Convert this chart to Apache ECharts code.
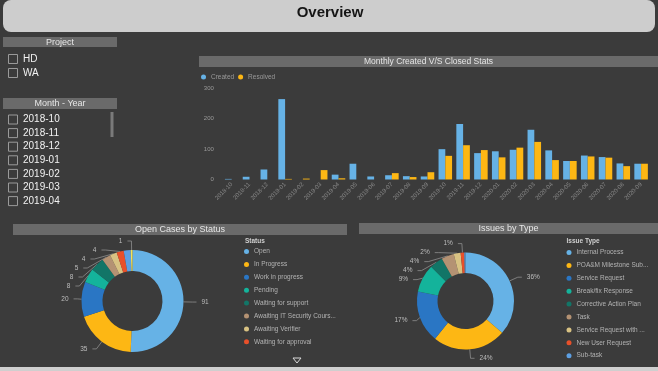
<!DOCTYPE html>
<html><head><meta charset="utf-8">
<script src="https://cdn.jsdelivr.net/npm/echarts@6/dist/echarts.min.js"></script>
<style>html,body{margin:0;padding:0;background:#3b3b3b;}#c{width:658px;height:371px;}</style>
</head><body><div id="c"></div>
<script>
const projects = ['HD', 'WA'];
const monthFilter = ['2018-10', '2018-11', '2018-12', '2019-01', '2019-02', '2019-03', '2019-04'];
const months = ['2018-10','2018-11','2018-12','2019-01','2019-02','2019-03','2019-04','2019-05','2019-06','2019-07','2019-08','2019-09','2019-10','2019-11','2019-12','2020-01','2020-02','2020-03','2020-04','2020-05','2020-06','2020-07','2020-08','2020-09'];
const created  = [2, 9, 33, 265, 0, 0, 16, 52, 10, 14, 11, 10, 100, 183, 87, 93, 98, 164, 96, 61, 79, 74, 53, 52];
const resolved = [0, 0, 0, 2, 3, 31, 4, 0, 0, 21, 8, 24, 78, 113, 97, 73, 105, 124, 64, 61, 76, 72, 44, 52];
const yTicks = [0, 100, 200, 300];
const statusNames = ['Open', 'In Progress', 'Work in progress', 'Pending', 'Waiting for support', 'Awaiting IT Security Cours...', 'Awaiting Verifier', 'Waiting for approval', 'Waiting for customer', 'On Hold'];
const statusValues = [91, 35, 20, 8, 8, 5, 4, 4, 4, 1];
const typeNames = ['Internal Process', 'POA&M Milestone Sub...', 'Service Request', 'Break/fix Response', 'Corrective Action Plan', 'Task', 'Service Request with ...', 'New User Request', 'Sub-task'];
const typeValues = [36.4, 24.4, 17.3, 9.4, 4.4, 4.2, 2.3, 1.2, 0.4];

const palette = ['#66b2e6', '#fdb714', '#2a76c4', '#14b39b', '#127567', '#b49273', '#d8c283', '#e8502a', '#5d9fe2', '#f3e35a'];
const BG = '#3b3b3b', BAND = '#6a6a6a';

const chart = echarts.init(document.getElementById('c'), null, {renderer: 'canvas', width: 658, height: 371});

const g = [];
g.push({type: 'rect', shape: {x: 3, y: 0, width: 652, height: 32, r: 8}, style: {fill: '#cdcdcd'}});
g.push({type: 'text', x: 330, y: 13, style: {text: 'Overview', fill: '#151515', font: 'bold 15px "Liberation Sans", Arial, sans-serif', textAlign: 'center', textVerticalAlign: 'middle'}});
function band(x, y, w, h, label, fs) {
  g.push({type: 'rect', shape: {x: x, y: y, width: w, height: h}, style: {fill: BAND}});
  g.push({type: 'text', x: x + w / 2, y: y + h / 2 + 0.5, style: {text: label, fill: '#e6e6e6', font: fs + 'px "Liberation Sans", Arial, sans-serif', textAlign: 'center', textVerticalAlign: 'middle'}});
}
band(3, 37, 114, 10, 'Project', 9);
band(3, 98, 114, 11, 'Month - Year', 9);
band(199, 56, 459, 11, 'Monthly Created V/S Closed Stats', 8.5);
band(13, 224, 334, 11, 'Open Cases by Status', 9);
band(359, 223, 299, 11, 'Issues by Type', 9);
function checkItem(label, cy) {
  g.push({type: 'rect', shape: {x: 8.5, y: cy - 4.5, width: 9, height: 9}, style: {fill: 'none', stroke: '#9a9a9a', lineWidth: 1}});
  g.push({type: 'text', x: 23, y: cy, style: {text: label, fill: '#f2f2f2', font: '10px "Liberation Sans", Arial, sans-serif', textAlign: 'left', textVerticalAlign: 'middle'}});
}
projects.forEach((p, i) => checkItem(p, 59 + i * 14));
monthFilter.forEach((m, i) => checkItem(m, 119.5 + i * 13.6));
g.push({type: 'rect', shape: {x: 110.5, y: 112, width: 3, height: 25}, style: {fill: '#7a7a7a'}});
g.push({type: 'text', x: 245, y: 241, style: {text: 'Status', fill: '#d0d0d0', font: 'bold 6.5px "Liberation Sans", Arial, sans-serif', textAlign: 'left', textVerticalAlign: 'middle'}});
g.push({type: 'text', x: 566.5, y: 241, style: {text: 'Issue Type', fill: '#d0d0d0', font: 'bold 6.5px "Liberation Sans", Arial, sans-serif', textAlign: 'left', textVerticalAlign: 'middle'}});
g.push({type: 'polygon', shape: {points: [[293, 358], [301, 358], [297, 363]]}, style: {fill: 'none', stroke: '#d8d8d8', lineWidth: 1}});
g.push({type: 'rect', shape: {x: 0, y: 367, width: 658, height: 4}, style: {fill: '#cfcfcf'}});

const legendText = {color: '#b3b3b3', fontSize: 6.5, lineHeight: 8, fontFamily: '"Liberation Sans", Arial, sans-serif'};

const statusData = statusNames.map((n, i) => {
  const d = {name: n, value: statusValues[i], itemStyle: {color: palette[i]}};
  if (i === 8) { d.label = {show: false}; d.labelLine = {show: false}; }
  return d;
});
const typeData = typeNames.map((n, i) => {
  const d = {name: n, value: typeValues[i], itemStyle: {color: palette[i]}};
  if (typeValues[i] < 0.5) { d.label = {show: false}; d.labelLine = {show: false}; }
  return d;
});

const pieLabel = {color: '#bdbdbd', fontSize: 6.5, fontFamily: '"Liberation Sans", Arial, sans-serif'};
const pieLine = {length: 9, length2: 4, lineStyle: {color: '#9a9a9a', width: 0.7}};

chart.setOption({
  backgroundColor: BG,
  animation: false,
  graphic: {elements: g},
  legend: [
    {data: ['Created', 'Resolved'], left: 201, top: 73, itemWidth: 5, itemHeight: 5, icon: 'circle', itemGap: 4, padding: 0, textStyle: Object.assign({}, legendText, {color: '#9a9a9a'})},
    {data: statusNames.slice(0, 8), orient: 'vertical', left: 244, top: 247.5, itemWidth: 5, itemHeight: 5, icon: 'circle', itemGap: 4.9, padding: 0, textStyle: legendText},
    {data: typeNames, orient: 'vertical', left: 566.5, top: 248.5, itemWidth: 5, itemHeight: 5, icon: 'circle', itemGap: 4.9, padding: 0, textStyle: legendText}
  ],
  grid: {left: 222.8, right: 8, top: 88.5, bottom: 191.5},
  xAxis: {type: 'category', data: months, axisLine: {show: false}, axisTick: {show: false},
    axisLabel: {rotate: 45, interval: 0, color: '#8a8a8a', fontSize: 6, margin: 4, fontFamily: '"Liberation Sans", Arial, sans-serif'}},
  yAxis: {type: 'value', min: yTicks[0], max: yTicks[yTicks.length - 1], interval: yTicks[1] - yTicks[0],
    splitLine: {show: false}, axisLine: {show: false}, axisTick: {show: false},
    axisLabel: {color: '#9a9a9a', fontSize: 6, margin: 9, fontFamily: '"Liberation Sans", Arial, sans-serif'}},
  series: [
    {name: 'Created', type: 'bar', data: created, itemStyle: {color: palette[0]}, barGap: '0%', barCategoryGap: '24%'},
    {name: 'Resolved', type: 'bar', data: resolved, itemStyle: {color: palette[1]}},
    {name: 'Status', type: 'pie', center: [132.5, 301], radius: [30, 51], data: statusData,
      label: Object.assign({formatter: '{c}'}, pieLabel), labelLine: pieLine},
    {name: 'Issue Type', type: 'pie', center: [465.5, 301], radius: [28, 48.5], data: typeData,
      label: Object.assign({formatter: p => Math.round(p.value) + '%'}, pieLabel), labelLine: pieLine}
  ]
});
</script></body></html>
